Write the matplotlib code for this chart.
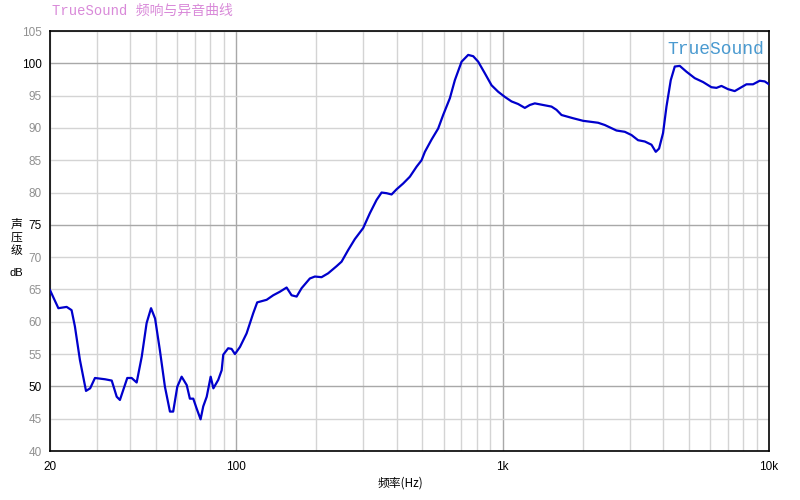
import matplotlib
matplotlib.use("Agg")
import matplotlib.pyplot as plt
from matplotlib.ticker import FixedLocator, NullFormatter

plt.rcParams['font.family'] = ['Liberation Sans', 'Noto Sans CJK SC', 'DejaVu Sans']

# frequency (Hz)
freq = [20, 21.5, 23.1, 24.1, 24.8, 25.9, 27.3, 28.3, 29.5, 32.2, 34.1, 35.6, 36.6,
        39.0, 40.5, 42.3, 44.2, 46.1, 47.9, 49.6, 51.7, 54.0, 56.4, 58.0, 60.1,
        62.4, 65.2, 67.0, 69.0, 71.0, 73.5, 75.2, 77.5, 80.2, 82.1, 85.6, 88.2,
        89.4, 93.3, 96.1, 98.9, 103.3, 109.4, 115.8, 119.9, 130.1, 137.7, 145.9,
        154.6, 161.4, 168.6, 176.0, 189.0, 197.4, 209.1, 221.4, 238.1, 248.6,
        263.2, 278.9, 299.6, 317.5, 336.4, 351.3, 366.8, 383.0, 399.9, 423.4,
        448.6, 475.4, 496.4, 510.8, 541.2, 572.9, 598.2, 634.0, 662.0, 701.5,
        742.7, 775.6, 809.8, 857.8, 908.9, 962.3, 1019.6, 1080.3, 1143.7, 1211.9,
        1265.3, 1321.1, 1419.4, 1526.3, 1593.4, 1664.0, 1839.0, 2005, 2283, 2419,
        2676, 2875, 3046, 3225, 3418, 3621, 3758, 3866, 4002, 4122, 4278, 4429,
        4624, 4899, 5265, 5655, 6079, 6351, 6629, 7017, 7435, 7879, 8227, 8709,
        9228, 9636, 10000]
# sound pressure level (dB)
spl = [64.9, 62.1, 62.3, 61.8, 59.3, 54.1, 49.3, 49.7, 51.3, 51.1, 50.9, 48.4, 47.9,
       51.3, 51.3, 50.6, 54.6, 59.8, 62.1, 60.5, 55.6, 49.95, 46.1, 46.1, 49.95,
       51.5, 50.2, 48.1, 48.1, 46.6, 44.9, 46.9, 48.4, 51.5, 49.7, 51.0, 52.5,
       54.9, 55.9, 55.8, 55.0, 56.1, 58.2, 61.3, 63.0, 63.4, 64.1, 64.65,
       65.3, 64.1, 63.9, 65.2, 66.7, 67.0, 66.9, 67.5, 68.6, 69.3,
       71.1, 72.8, 74.5, 76.8, 78.85, 80.0, 79.9, 79.7, 80.5, 81.4,
       82.45, 84.0, 85.0, 86.3, 88.2, 89.9, 92.0, 94.6, 97.4, 100.25,
       101.3, 101.1, 100.25, 98.45, 96.6, 95.6, 94.8, 94.1, 93.7, 93.1,
       93.55, 93.8, 93.55, 93.3, 92.8, 92.0, 91.5, 91.1, 90.8, 90.45,
       89.6, 89.4, 88.9, 88.1, 87.9, 87.4, 86.3, 86.8, 89.2, 93.3, 97.4, 99.5,
       99.6, 98.7, 97.7, 97.1, 96.3, 96.2, 96.5, 96.0, 95.7, 96.3, 96.75, 96.75,
       97.3, 97.2, 96.75]

yticks = [40, 45, 50, 55, 60, 65, 70, 75, 80, 85, 90, 95, 100, 105]
ymajor = [50, 75, 100]
xticks = [20, 100, 1000, 10000]
xlabels = ["20", "100", "1k", "10k"]

fig = plt.figure(figsize=(8, 5), dpi=100)
ax = fig.add_axes([0.0625, 0.098, 0.89875, 0.84])

ax.semilogx(freq, spl, color='#0000cc', linewidth=1.6, zorder=3)
ax.set_xlim(20, 10000)
ax.set_ylim(40, 105)

# grid
minor_x = [f * d for d in (10, 100, 1000) for f in range(2, 10) if 20 <= f * d < 10000]
for f in minor_x:
    ax.axvline(f, color='#d4d4d4', linewidth=1, zorder=1)
for f in (100, 1000):
    ax.axvline(f, color='#a8a8a8', linewidth=1, zorder=1)
for y in yticks:
    ax.axhline(y, color='#a8a8a8' if y in ymajor else '#d4d4d4', linewidth=1, zorder=1)

ax.xaxis.set_major_locator(FixedLocator(xticks))
ax.xaxis.set_minor_locator(FixedLocator(minor_x))
ax.xaxis.set_minor_formatter(NullFormatter())
ax.set_xticklabels(xlabels)
ax.set_yticks(yticks)
ax.tick_params(axis='both', which='both', length=0, labelsize=8.5)
ax.tick_params(axis='x', pad=7)
ax.tick_params(axis='y', pad=6)
for lab, y in zip(ax.get_yticklabels(), yticks):
    lab.set_color('black' if y in ymajor else '#909090')

for s in ax.spines.values():
    s.set_color('black')
    s.set_linewidth(1.2)

fig.text(0.065, 0.978, "TrueSound 频响与异音曲线", color='#d98ad9', fontsize=10,
         family=['Liberation Mono', 'Noto Sans CJK SC'], va='center', ha='left')
ax.text(0.993, 0.975, "TrueSound", transform=ax.transAxes, color='#4a9ad0',
        fontsize=13, family=['Liberation Mono'], ha='right', va='top')

fig.text(0.021, 0.525, "声\n压\n级", fontsize=8.5, ha='center', va='center',
         family=['Noto Sans CJK SC'], linespacing=1.0)
fig.text(0.021, 0.455, "dB", fontsize=8, ha='center', va='center')
fig.text(0.5, 0.033, "频率(Hz)", fontsize=8.5, ha='center', va='center',
         family=['Noto Sans CJK SC', 'Liberation Sans'])

fig.savefig("out.png", dpi=100)
